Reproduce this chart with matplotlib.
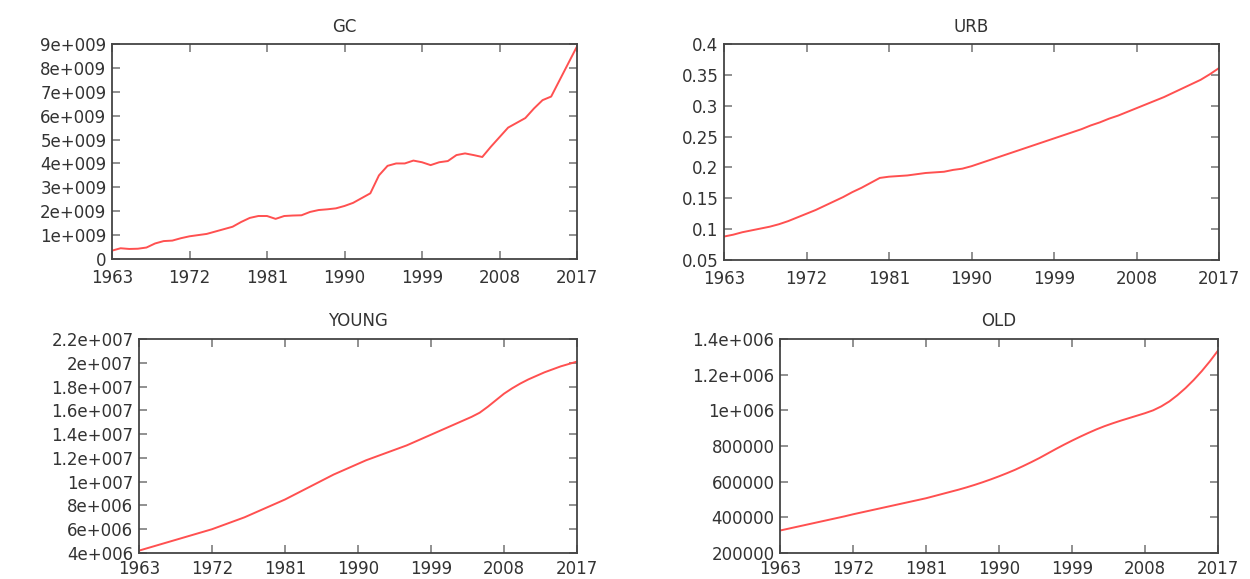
import matplotlib
matplotlib.use("Agg")
import matplotlib.pyplot as plt
import numpy as np

years = list(range(1963, 2018))

gc = [0.35, 0.45, 0.42, 0.43, 0.48, 0.65, 0.75, 0.77, 0.87, 0.95,
      1.00, 1.05, 1.15, 1.25, 1.35, 1.55, 1.72, 1.80, 1.80, 1.68,
      1.80, 1.82, 1.83, 1.97, 2.05, 2.08, 2.12, 2.22, 2.35, 2.55,
      2.75, 3.50, 3.90, 4.00, 4.00, 4.12, 4.05, 3.93, 4.05, 4.10,
      4.35, 4.42, 4.35, 4.27, 4.70, 5.10, 5.50, 5.70, 5.90, 6.30,
      6.65, 6.80, 7.50, 8.20, 8.90]  # x 1e9

urb = [0.088, 0.091, 0.095, 0.098, 0.101, 0.104, 0.108, 0.113, 0.119, 0.125,
       0.131, 0.138, 0.145, 0.152, 0.160, 0.167, 0.175, 0.183, 0.185, 0.186,
       0.187, 0.189, 0.191, 0.192, 0.193, 0.196, 0.198, 0.202, 0.207, 0.212,
       0.217, 0.222, 0.227, 0.232, 0.237, 0.242, 0.247, 0.252, 0.257, 0.262,
       0.268, 0.273, 0.279, 0.284, 0.290, 0.296, 0.302, 0.308, 0.314, 0.321,
       0.328, 0.335, 0.342, 0.351, 0.361]

young = [4.2, 4.4, 4.6, 4.8, 5.0, 5.2, 5.4, 5.6, 5.8, 6.0,
         6.25, 6.5, 6.75, 7.0, 7.3, 7.6, 7.9, 8.2, 8.5, 8.85,
         9.2, 9.55, 9.9, 10.25, 10.6, 10.9, 11.2, 11.5, 11.8, 12.05,
         12.3, 12.55, 12.8, 13.05, 13.35, 13.65, 13.95, 14.25, 14.55, 14.85,
         15.15, 15.45, 15.8, 16.3, 16.85, 17.4, 17.85, 18.25, 18.6, 18.9,
         19.2, 19.45, 19.7, 19.9, 20.1]  # x 1e6

old = [326, 336, 346, 356, 366, 376, 386, 396, 406, 417,
       427, 437, 447, 457, 467, 477, 487, 497, 507, 519,
       531, 543, 555, 568, 582, 597, 613, 630, 648, 667,
       688, 710, 733, 758, 783, 807, 830, 852, 873, 893,
       911, 927, 942, 956, 970, 984, 1000, 1022, 1050, 1085,
       1125, 1170, 1220, 1275, 1335]  # x 1e3

x_ticks = [1963, 1972, 1981, 1990, 1999, 2008, 2017]

gc_ticks = [0, 1e9, 2e9, 3e9, 4e9, 5e9, 6e9, 7e9, 8e9, 9e9]
gc_labels = ["0", "1e+009", "2e+009", "3e+009", "4e+009", "5e+009",
             "6e+009", "7e+009", "8e+009", "9e+009"]
urb_ticks = [0.05, 0.1, 0.15, 0.2, 0.25, 0.3, 0.35, 0.4]
urb_labels = ["0.05", "0.1", "0.15", "0.2", "0.25", "0.3", "0.35", "0.4"]
young_ticks = [4e6, 6e6, 8e6, 1e7, 1.2e7, 1.4e7, 1.6e7, 1.8e7, 2e7, 2.2e7]
young_labels = ["4e+006", "6e+006", "8e+006", "1e+007", "1.2e+007",
                "1.4e+007", "1.6e+007", "1.8e+007", "2e+007", "2.2e+007"]
old_ticks = [2e5, 4e5, 6e5, 8e5, 1e6, 1.2e6, 1.4e6]
old_labels = ["200000", "400000", "600000", "800000", "1e+006",
              "1.2e+006", "1.4e+006"]

W, H = 1250, 579
fig = plt.figure(figsize=(W / 100, H / 100), dpi=100)
plt.rcParams['font.family'] = ['DejaVu Sans']

def px_axes(left, top, right, bottom):
    return fig.add_axes([left / W, (H - bottom) / H, (right - left) / W, (bottom - top) / H])

panels = [
    ("GC", (112, 44, 577, 259), np.array(gc) * 1e9, gc_ticks, gc_labels, 7.0),
    ("URB", (724, 44, 1219, 260), np.array(urb), urb_ticks, urb_labels, 7.0),
    ("YOUNG", (139, 339, 577, 553), np.array(young) * 1e6, young_ticks, young_labels, 5.0),
    ("OLD", (780, 339, 1218, 553), np.array(old) * 1e3, old_ticks, old_labels, 5.0),
]

txt = '#333333'
for title, box, vals, yt, yl, xpad in panels:
    ax = px_axes(*box)
    ax.plot(years, vals, color='#ff5050', lw=1.4)
    ax.set_xlim(1963, 2017)
    ax.set_ylim(yt[0], yt[-1])
    ax.set_xticks(x_ticks)
    ax.set_xticklabels([str(t) for t in x_ticks])
    ax.set_yticks(yt)
    ax.set_yticklabels(yl)
    ax.tick_params(direction='in', length=6, width=1.3, color='#888888',
                   top=True, right=True, labelsize=12, labelcolor=txt)
    ax.tick_params(axis='x', pad=xpad)
    ax.tick_params(axis='y', pad=4)
    for s in ax.spines.values():
        s.set_color('#444444')
        s.set_linewidth(1.3)
    ax.set_title(title, fontsize=12, color=txt, pad=9)

fig.savefig("out.png", dpi=100, facecolor='white')
